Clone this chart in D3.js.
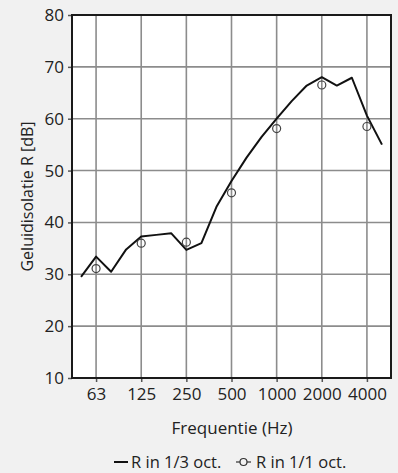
<!DOCTYPE html>
<html>
<head>
<meta charset="utf-8">
<script src="https://cdn.jsdelivr.net/npm/d3@7"></script>
<style>
  body { margin: 0; background: #f1f1f1; }
  svg { display: block; font-family: "Open Sans", "Noto Sans", sans-serif; }
</style>
</head>
<body>
<div id="chart"></div>
<script>
// 1/3 octave bands and measured values
const bands = ["50", "63", "80", "100", "125", "160", "200", "250", "315", "400", "500",
  "630", "800", "1000", "1250", "1600", "2000", "2500", "3150", "4000", "5000"];
const thirdOct = [29.5, 33.4, 30.5, 34.8, 37.3, 37.6, 37.9, 34.7, 36, 43, 48,
  52.5, 56.5, 60, 63.4, 66.4, 68, 66.4, 67.9, 60.6, 55];

// 1/1 octave bands
const octaves = ["63", "125", "250", "500", "1000", "2000", "4000"];
const fullOct = [31.1, 36, 36.2, 45.7, 58.1, 66.5, 58.5];

const yTicks = [10, 20, 30, 40, 50, 60, 70, 80];

const width = 398, height = 473;
const margin = { top: 15, right: 7, bottom: 95, left: 72 };

const svg = d3.select("#chart").append("svg")
  .attr("width", width)
  .attr("height", height);

const x = d3.scalePoint().domain(bands)
  .range([margin.left, width - margin.right]).padding(0.6);
const y = d3.scaleLinear().domain([10, 80])
  .range([height - margin.bottom, margin.top]);

// plot area
svg.append("rect")
  .attr("x", margin.left).attr("y", margin.top)
  .attr("width", width - margin.right - margin.left)
  .attr("height", height - margin.bottom - margin.top)
  .attr("fill", "#fff");

// grid
svg.append("g").selectAll("line").data(octaves).join("line")
  .attr("x1", d => x(d)).attr("x2", d => x(d))
  .attr("y1", margin.top).attr("y2", height - margin.bottom)
  .attr("stroke", "#8c8c8c").attr("stroke-width", 1.6);
svg.append("g").selectAll("line").data(yTicks).join("line")
  .attr("x1", margin.left).attr("x2", width - margin.right)
  .attr("y1", d => y(d)).attr("y2", d => y(d))
  .attr("stroke", "#8c8c8c").attr("stroke-width", 1.6);

// axes
const yAxis = svg.append("g")
  .attr("transform", `translate(${margin.left},0)`)
  .call(d3.axisLeft(y).tickValues(yTicks).tickSize(4).tickPadding(4));
const xAxis = svg.append("g")
  .attr("transform", `translate(0,${height - margin.bottom})`)
  .call(d3.axisBottom(x).tickValues(octaves).tickSize(4).tickPadding(6));
[yAxis, xAxis].forEach(g => {
  g.select(".domain").remove();
  g.selectAll(".tick line").attr("stroke", "#555").attr("stroke-width", 1.5);
  g.selectAll("text").attr("font-size", 17).attr("fill", "#222")
    .attr("font-family", "'Open Sans', sans-serif");
});

// frame
svg.append("rect")
  .attr("x", margin.left).attr("y", margin.top)
  .attr("width", width - margin.right - margin.left)
  .attr("height", height - margin.bottom - margin.top)
  .attr("fill", "none").attr("stroke", "#1a1a1a").attr("stroke-width", 2);

// series
const line = d3.line().x((d, i) => x(bands[i])).y(d => y(d));
svg.append("path").datum(thirdOct)
  .attr("d", line)
  .attr("fill", "none").attr("stroke", "#111").attr("stroke-width", 2)
  .attr("stroke-linejoin", "round");

svg.append("g").selectAll("circle").data(fullOct).join("circle")
  .attr("cx", (d, i) => x(octaves[i]))
  .attr("cy", d => y(d))
  .attr("r", 4)
  .attr("fill", "none").attr("stroke", "#444").attr("stroke-width", 1.2);

// titles
svg.append("text")
  .attr("x", (margin.left + width - margin.right) / 2 + 0.5)
  .attr("y", 434)
  .attr("text-anchor", "middle").attr("font-size", 17).attr("fill", "#222")
  .text("Frequentie (Hz)");

svg.append("text")
  .attr("transform", `translate(33,${(margin.top + height - margin.bottom) / 2}) rotate(-90)`)
  .attr("text-anchor", "middle").attr("font-size", 16).attr("fill", "#222")
  .text("Geluidisolatie R [dB]");

// legend
const leg = svg.append("g").attr("transform", "translate(0,462)");
leg.append("line").attr("x1", 114).attr("x2", 128).attr("y1", 0).attr("y2", 0)
  .attr("stroke", "#111").attr("stroke-width", 2);
leg.append("text").attr("x", 131).attr("y", 6).attr("font-size", 16.5).attr("fill", "#222")
  .text("R in 1/3 oct.");
leg.append("line").attr("x1", 236).attr("x2", 251).attr("y1", 0).attr("y2", 0)
  .attr("stroke", "#333").attr("stroke-width", 1.2);
leg.append("circle").attr("cx", 243.5).attr("cy", 0).attr("r", 3.5)
  .attr("fill", "#f1f1f1").attr("stroke", "#333").attr("stroke-width", 1.2);
leg.append("text").attr("x", 256).attr("y", 6).attr("font-size", 16.5).attr("fill", "#222")
  .text("R in 1/1 oct.");
</script>
</body>
</html>
